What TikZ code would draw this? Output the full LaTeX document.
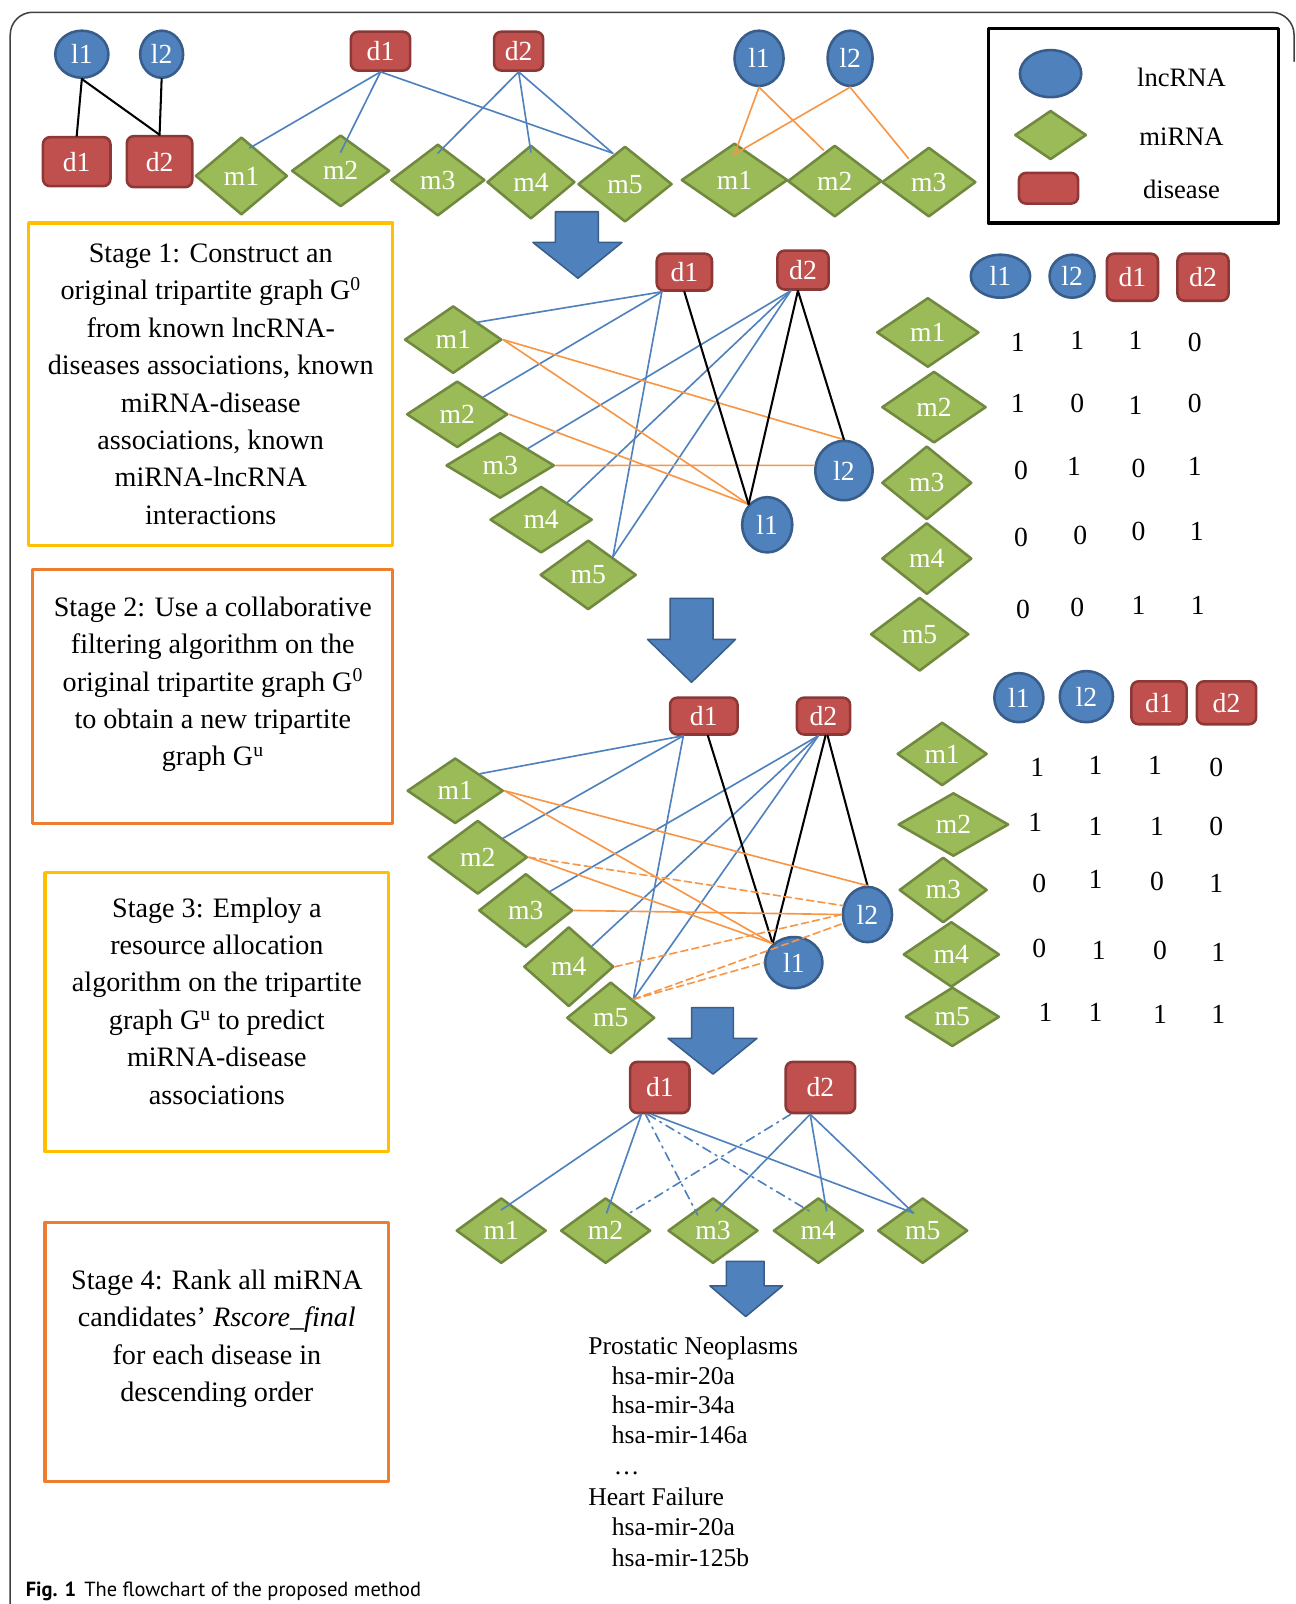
\documentclass[tikz,border=0pt]{standalone}
\usepackage{fontspec}
\setmainfont{Liberation Serif}
\setsansfont{PT Sans}
\usepackage{tikz}
\usetikzlibrary{shapes.geometric}

\definecolor{lncfill}{HTML}{4F81BD}
\definecolor{lncline}{HTML}{385D8A}
\definecolor{disfill}{HTML}{C0504D}
\definecolor{disline}{HTML}{8C3836}
\definecolor{mirfill}{HTML}{9BBB59}
\definecolor{mirline}{HTML}{71893F}
\definecolor{linkblue}{HTML}{4F81BD}
\definecolor{linkorange}{HTML}{F79646}
\definecolor{boxgold}{HTML}{FFC000}
\definecolor{boxorange}{HTML}{ED7D31}
\definecolor{framegray}{HTML}{404040}

\newcommand{\rnafont}{\fontsize{27}{30}\selectfont}
\newcommand{\stagefont}{\fontsize{27.5}{36.6}\selectfont}
\newcommand{\listfont}{\fontsize{25}{29.5}\selectfont}

\tikzset{
  lnc/.style={ellipse,draw=lncline,fill=lncfill,line width=2.5pt,text=white,inner sep=0pt,font=\rnafont},
  dis/.style={rectangle,rounded corners=7pt,draw=disline,fill=disfill,line width=2.5pt,text=white,inner sep=0pt,font=\rnafont},
  mir/.style={diamond,draw=mirline,fill=mirfill,line width=2.5pt,text=white,inner sep=0pt,font=\rnafont},
  blueline/.style={draw=linkblue,line width=1.6pt},
  orangeline/.style={draw=linkorange,line width=1.6pt},
  blackline/.style={draw=black,line width=2pt},
  dashorange/.style={orangeline,dash pattern=on 7pt off 4pt},
  dashdotblue/.style={blueline,dash pattern=on 9pt off 5pt on 2pt off 5pt},
  stagebox/.style={rectangle,line width=3pt,inner sep=0pt},
  stagetext/.style={align=center,font=\stagefont,inner sep=0pt},
  digit/.style={font=\rnafont,inner sep=0pt},
  legtext/.style={font=\fontsize{26}{30}\selectfont,inner sep=0pt},
  listtext/.style={anchor=base west,font=\listfont,inner sep=0pt},
  bigarrow/.style={fill=lncfill,draw=lncline,line width=1.5pt}
}

\begin{document}
\begin{tikzpicture}[x=1pt,y=-1pt,line cap=round,line join=round]

\useasboundingbox (0,0) rectangle (1266,1568);

% frame
\draw [framegray,line width=1.5pt,rounded corners=22pt] (10,1568) -- (10,12) -- (1265,12) -- (1265,60);

% known lncRNA-disease
\node[lnc,minimum width=52pt,minimum height=46pt] (l1a) at (80,53) {l1};
\node[lnc,minimum width=42pt,minimum height=46pt] (l2a) at (158,53) {l2};
\node[dis,minimum width=66pt,minimum height=48pt] (d1a) at (75,158) {d1};
\node[dis,minimum width=64pt,minimum height=50pt] (d2a) at (156,158) {d2};
\draw [blackline] (l1a.south) -- (d1a.north);
\draw [blackline] (l1a.south) -- (d2a.north);
\draw [blackline] (l2a.south) -- (d2a.north);

% known miRNA-disease
\node[dis,minimum width=58pt,minimum height=38pt] (d1b) at (372,50) {d1};
\node[dis,minimum width=48pt,minimum height=38pt] (d2b) at (507,50) {d2};
\node[mir,minimum width=90pt,minimum height=76pt] (m1b) at (236,172) {m1};
\node[mir,minimum width=96pt,minimum height=70pt] (m2b) at (333,167) {m2};
\node[mir,minimum width=92pt,minimum height=70pt] (m3b) at (428,176) {m3};
\node[mir,minimum width=86pt,minimum height=72pt] (m4b) at (519,178) {m4};
\node[mir,minimum width=92pt,minimum height=74pt] (m5b) at (611,180) {m5};
\draw [blueline] (d1b.south) -- ([xshift=8pt,yshift=-12pt]m1b.north);
\draw [blueline] (d1b.south) -- ([yshift=-18pt]m2b.north);
\draw [blueline] (d1b.south) -- ([xshift=-12pt,yshift=-8pt]m5b.north);
\draw [blueline] (d2b.south) -- ([yshift=-10pt]m3b.north);
\draw [blueline] (d2b.south) -- ([yshift=-8pt]m4b.north);
\draw [blueline] (d2b.south) -- ([xshift=-12pt,yshift=-8pt]m5b.north);

% known miRNA-lncRNA
\node[lnc,minimum width=48pt,minimum height=54pt] (l1c) at (742,57) {l1};
\node[lnc,minimum width=44pt,minimum height=54pt] (l2c) at (831,57) {l2};
\node[mir,minimum width=104pt,minimum height=72pt] (m1c) at (718,176) {m1};
\node[mir,minimum width=92pt,minimum height=70pt] (m2c) at (816,177) {m2};
\node[mir,minimum width=92pt,minimum height=68pt] (m3c) at (908,178) {m3};
\draw [orangeline] (l1c.south) -- ([yshift=-12pt]m1c.north);
\draw [orangeline] (l1c.south) -- ([xshift=-11pt,yshift=-6pt]m2c.north);
\draw [orangeline] (l2c.south) -- ([yshift=-12pt]m1c.north);
\draw [orangeline] (l2c.south) -- ([xshift=-20pt,yshift=-12pt]m3c.north);

% legend
\node[draw,line width=3pt,minimum width=284pt,minimum height=190pt] (legend) at (1108,123) {};
\node[lnc,minimum width=60pt,minimum height=46pt] (leglnc) at (1027,72) {};
\node[mir,minimum width=70pt,minimum height=48pt] (legmir) at (1027,132) {};
\node[dis,minimum width=58pt,minimum height=30pt] (legdis) at (1025,184) {};
\node[legtext] (leglnctext) at (1155,76) {lncRNA};
\node[legtext] (legmirtext) at (1155,134) {miRNA};
\node[legtext] (legdistext) at (1155,185) {disease};

% stage boxes
\node[stagebox,draw=boxgold,minimum width=356pt,minimum height=315pt] (stage1) at (206,375.5) {};
\node[stagetext] (stage1text) at (stage1.center) {Stage 1: Construct an\\original tripartite graph G\textsuperscript{0}\\from known lncRNA-\\diseases associations, known\\miRNA-disease\\associations, known\\miRNA-lncRNA\\interactions};

\node[stagebox,draw=boxorange,minimum width=352pt,minimum height=248pt] (stage2) at (208,681) {};
\node[stagetext] (stage2text) at ([yshift=12pt]stage2.center) {Stage 2: Use a collaborative\\filtering algorithm on the\\original tripartite graph G\textsuperscript{0}\\to obtain a new tripartite\\graph G\textsuperscript{u}};

\node[stagebox,draw=boxgold,minimum width=336pt,minimum height=273pt] (stage3) at (212,989.5) {};
\node[stagetext] (stage3text) at ([yshift=11pt]stage3.center) {Stage 3: Employ a\\resource allocation\\algorithm on the tripartite\\graph G\textsuperscript{u} to predict\\miRNA-disease\\associations};

\node[stagebox,draw=boxorange,minimum width=336pt,minimum height=253pt] (stage4) at (212,1321.5) {};
\node[stagetext] (stage4text) at ([yshift=13pt]stage4.center) {Stage 4: Rank all miRNA\\candidates' \textit{Rscore\_final}\\for each disease in\\descending order};

% arrows
\draw [bigarrow] (543,207) -- (585,207) -- (585,237) -- (608,237) -- (565,272) -- (521,237) -- (543,237) -- cycle;
\draw [bigarrow] (655,585) -- (697,585) -- (697,625) -- (719,625) -- (676,667) -- (633,625) -- (655,625) -- cycle;
\draw [bigarrow] (676,985) -- (717,985) -- (717,1015) -- (740,1015) -- (697,1050) -- (653,1015) -- (676,1015) -- cycle;
\draw [bigarrow] (710,1233) -- (747,1233) -- (747,1257) -- (765,1257) -- (729,1287) -- (694,1257) -- (710,1257) -- cycle;

% tripartite graph G0
\node[dis,minimum width=54pt,minimum height=36pt] (d1g) at (669,266) {d1};
\node[dis,minimum width=50pt,minimum height=38pt] (d2g) at (785,264) {d2};
\node[mir,minimum width=95pt,minimum height=66pt] (m1g) at (443,332) {m1};
\node[mir,minimum width=99pt,minimum height=65pt] (m2g) at (447,405) {m2};
\node[mir,minimum width=106pt,minimum height=64pt] (m3g) at (489,455) {m3};
\node[mir,minimum width=100pt,minimum height=65pt] (m4g) at (529,508) {m4};
\node[mir,minimum width=94pt,minimum height=68pt] (m5g) at (575,562) {m5};
\node[lnc,minimum width=49pt,minimum height=54pt] (l1g) at (750,513) {l1};
\node[lnc,minimum width=56pt,minimum height=58pt] (l2g) at (825,460) {l2};
\draw [blueline] ([xshift=-22pt]d1g.south) -- (m1g.north east);
\draw [blueline] ([xshift=-22pt]d1g.south) -- (m2g.north east);
\draw [blueline] ([xshift=-22pt]d1g.south) -- (m5g.north east);
\draw [blueline] ([xshift=-12pt]d2g.south) -- (m3g.north east);
\draw [blueline] ([xshift=-12pt]d2g.south) -- (m4g.north east);
\draw [blueline] ([xshift=-12pt]d2g.south) -- (m5g.north east);
\draw [orangeline] (m1g.east) -- (l1g.north west);
\draw [orangeline] (m1g.east) -- (l2g.north);
\draw [orangeline] (m2g.east) -- (l1g.north west);
\draw [orangeline] (m3g.east) -- (l2g.170);
\draw [blackline] (d1g.south) -- (l1g.north west);
\draw [blackline] ([xshift=-5pt]d2g.south) -- (l1g.north west);
\draw [blackline] ([xshift=-5pt]d2g.south) -- (l2g.north);

% matrix of G0
\node[lnc,minimum width=58pt,minimum height=42pt] (l1t) at (978,270) {l1};
\node[lnc,minimum width=44pt,minimum height=42pt] (l2t) at (1048,270) {l2};
\node[dis,minimum width=50pt,minimum height=46pt] (d1t) at (1107,271) {d1};
\node[dis,minimum width=50pt,minimum height=46pt] (d2t) at (1176,271) {d2};
\node[mir,minimum width=100pt,minimum height=68pt] (m1t) at (907,325) {m1};
\node[mir,minimum width=102pt,minimum height=70pt] (m2t) at (913,398) {m2};
\node[mir,minimum width=88pt,minimum height=72pt] (m3t) at (906,472) {m3};
\node[mir,minimum width=88pt,minimum height=70pt] (m4t) at (906,546) {m4};
\node[mir,minimum width=96pt,minimum height=72pt] (m5t) at (899,620) {m5};

\node[digit] (v11) at (995,335) {1};
\node[digit] (v12) at (1053,333) {1};
\node[digit] (v13) at (1110,333) {1};
\node[digit] (v14) at (1168,335) {0};
\node[digit] (v21) at (995,394) {1};
\node[digit] (v22) at (1053,394) {0};
\node[digit] (v23) at (1110,396) {1};
\node[digit] (v24) at (1168,394) {0};
\node[digit] (v31) at (998,460) {0};
\node[digit] (v32) at (1050,456) {1};
\node[digit] (v33) at (1113,458) {0};
\node[digit] (v34) at (1168,456) {1};
\node[digit] (v41) at (998,525) {0};
\node[digit] (v42) at (1056,523) {0};
\node[digit] (v43) at (1113,520) {0};
\node[digit] (v44) at (1170,519) {1};
\node[digit] (v51) at (1000,596) {0};
\node[digit] (v52) at (1053,594) {0};
\node[digit] (v53) at (1113,592) {1};
\node[digit] (v54) at (1171,592) {1};

% tripartite graph Gu
\node[dis,minimum width=66pt,minimum height=36pt] (d1h) at (688,700) {d1};
\node[dis,minimum width=52pt,minimum height=36pt] (d2h) at (805,700) {d2};
\node[mir,minimum width=94pt,minimum height=64pt] (m1h) at (445,773) {m1};
\node[mir,minimum width=97pt,minimum height=72pt] (m2h) at (467,838) {m2};
\node[mir,minimum width=92pt,minimum height=72pt] (m3h) at (514,890) {m3};
\node[mir,minimum width=88pt,minimum height=78pt] (m4h) at (556,945) {m4};
\node[mir,minimum width=86pt,minimum height=70pt] (m5h) at (597,995) {m5};
\node[lnc,minimum width=56pt,minimum height=50pt] (l1h) at (776,941) {l1};
\node[lnc,minimum width=48pt,minimum height=54pt] (l2h) at (848,894) {l2};
\draw [blueline] ([xshift=-20pt]d1h.south) -- (m1h.north east);
\draw [blueline] ([xshift=-20pt]d1h.south) -- (m2h.north east);
\draw [blueline] ([xshift=-20pt]d1h.south) -- (m5h.north east);
\draw [blueline] ([xshift=-5pt]d2h.south) -- (m3h.north east);
\draw [blueline] ([xshift=-5pt]d2h.south) -- (m4h.north east);
\draw [blueline] ([xshift=-5pt]d2h.south) -- (m5h.north east);
\draw [blackline] ([xshift=4pt]d1h.south) -- (l1h.north west);
\draw [blackline] ([xshift=2pt]d2h.south) -- (l1h.north west);
\draw [blackline] ([xshift=4pt]d2h.south) -- (l2h.north);
\draw [orangeline] (m1h.east) -- (l1h.north west);
\draw [orangeline] (m1h.east) -- (l2h.north);
\draw [orangeline] (m2h.east) -- (l1h.north west);
\draw [orangeline] (m3h.east) -- (l2h.west);
\draw [dashorange] (m2h.east) -- (l2h.160);
\draw [dashorange] (m4h.east) -- (l2h.west);
\draw [dashorange] (m5h.north east) -- (l2h.200);
\draw [dashorange] (m5h.north east) -- (l1h.west);

% matrix of Gu
\node[lnc,minimum width=48pt,minimum height=48pt] (l1u) at (996,682) {l1};
\node[lnc,minimum width=52pt,minimum height=50pt] (l2u) at (1062,681) {l2};
\node[dis,minimum width=54pt,minimum height=42pt] (d1u) at (1133,687) {d1};
\node[dis,minimum width=58pt,minimum height=42pt] (d2u) at (1199,687) {d2};
\node[mir,minimum width=88pt,minimum height=62pt] (m1u) at (921,737) {m1};
\node[mir,minimum width=108pt,minimum height=62pt] (m2u) at (932,806) {m2};
\node[mir,minimum width=86pt,minimum height=64pt] (m3u) at (922,870) {m3};
\node[mir,minimum width=94pt,minimum height=64pt] (m4u) at (930,933) {m4};
\node[mir,minimum width=92pt,minimum height=58pt] (m5u) at (931,994) {m5};

\node[digit] (w11) at (1014,750) {1};
\node[digit] (w12) at (1071,748) {1};
\node[digit] (w13) at (1129,748) {1};
\node[digit] (w14) at (1189,750) {0};
\node[digit] (w21) at (1012,804) {1};
\node[digit] (w22) at (1071,808) {1};
\node[digit] (w23) at (1131,808) {1};
\node[digit] (w24) at (1189,808) {0};
\node[digit] (w31) at (1016,864) {0};
\node[digit] (w32) at (1071,860) {1};
\node[digit] (w33) at (1131,862) {0};
\node[digit] (w34) at (1189,864) {1};
\node[digit] (w41) at (1016,927) {0};
\node[digit] (w42) at (1074,929) {1};
\node[digit] (w43) at (1134,929) {0};
\node[digit] (w44) at (1191,931) {1};
\node[digit] (w51) at (1022,990) {1};
\node[digit] (w52) at (1071,990) {1};
\node[digit] (w53) at (1134,992) {1};
\node[digit] (w54) at (1191,992) {1};

% predicted miRNA-disease
\node[dis,minimum width=58pt,minimum height=50pt] (d1k) at (645,1063) {d1};
\node[dis,minimum width=68pt,minimum height=50pt] (d2k) at (802,1063) {d2};
\node[mir,minimum width=88pt,minimum height=64pt] (m1k) at (490,1203) {m1};
\node[mir,minimum width=88pt,minimum height=64pt] (m2k) at (592,1203) {m2};
\node[mir,minimum width=88pt,minimum height=64pt] (m3k) at (697,1203) {m3};
\node[mir,minimum width=88pt,minimum height=64pt] (m4k) at (800,1203) {m4};
\node[mir,minimum width=88pt,minimum height=64pt] (m5k) at (902,1203) {m5};
\draw [blueline] ([xshift=-18pt]d1k.south) -- ([yshift=-13pt]m1k.north);
\draw [blueline] ([xshift=-18pt]d1k.south) -- ([xshift=1pt,yshift=-16pt]m2k.north);
\draw [blueline] ([xshift=-8pt]d1k.south) -- ([xshift=-9pt,yshift=-16pt]m5k.north);
\draw [blueline] ([xshift=-10pt]d2k.south) -- ([xshift=3pt,yshift=-14pt]m3k.north);
\draw [blueline] ([xshift=-10pt]d2k.south) -- ([xshift=8pt,yshift=-14pt]m4k.north);
\draw [blueline] ([xshift=-10pt]d2k.south) -- ([xshift=-9pt,yshift=-16pt]m5k.north);
\draw [dashdotblue] ([xshift=-14pt]d1k.south) -- ([xshift=-15pt,yshift=-18pt]m3k.north);
\draw [dashdotblue] ([xshift=-12pt]d1k.south) -- ([xshift=-9pt,yshift=-14pt]m4k.north);
\draw [dashdotblue] ([xshift=-29pt]d2k.south) -- (m2k.north east);

% ranked list
\node[listtext] (pn) at (575,1324) {Prostatic Neoplasms};
\node[listtext] (pn1) at (598,1353) {hsa-mir-20a};
\node[listtext] (pn2) at (598,1382) {hsa-mir-34a};
\node[listtext] (pn3) at (598,1411) {hsa-mir-146a};
\node[listtext] (dots) at (600,1441) {\ldots};
\node[listtext] (hf) at (575,1472) {Heart Failure};
\node[listtext] (hf1) at (598,1501) {hsa-mir-20a};
\node[listtext] (hf2) at (598,1531) {hsa-mir-125b};

% caption
\node[anchor=base west,inner sep=0pt,font=\sffamily\fontsize{20}{24}\selectfont] (caption) at (25,1561) {\textbf{Fig. 1}\hspace{8pt}The flowchart of the proposed method};

\end{tikzpicture}
\end{document}
